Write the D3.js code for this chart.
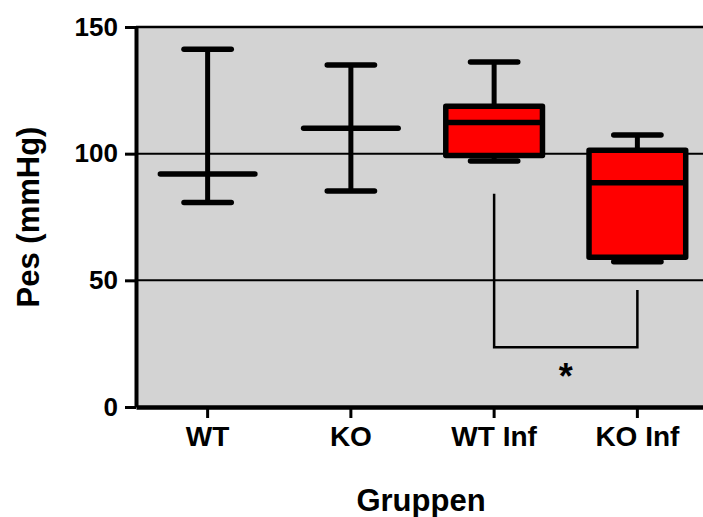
<!DOCTYPE html>
<html>
<head>
<meta charset="utf-8">
<script src="https://cdn.jsdelivr.net/npm/d3@7"></script>
<style>
  body { margin: 0; background: #fff; }
  svg { display: block; font-family: Arial, "Liberation Sans", Helvetica, sans-serif; font-weight: bold; }
</style>
</head>
<body>
<div id="chart"></div>
<script>
// groups and values (mmHg)
const groups = ["WT", "KO", "WT Inf", "KO Inf"];
const mins    = [80.7, 85.3, 97.1, 57.3];
const q1s     = [null, null, 99.3, 59.1];
const medians = [92.0, 110.0, 112.3, 88.5];
const q3s     = [null, null, 118.7, 101.3];
const maxs    = [141.2, 135.0, 136.2, 107.4];
const hasBox  = [false, false, true, true];

const yTicks = [0, 50, 100, 150];
const gridValues = [50, 100];

// significance bracket between WT Inf and KO Inf
const bracketGroups = ["WT Inf", "KO Inf"];
const bracketTops = [84.2, 46.2];
const bracketBottom = 23.6;
const bracketLabel = "*";

const width = 703, height = 517;
const margin = { left: 136, top: 27, bottom: 110 };
const plotRight = 709;

const svg = d3.select("#chart").append("svg")
    .attr("width", width)
    .attr("height", height);

const x = d3.scaleBand()
    .domain(groups)
    .range([margin.left, plotRight]);

const y = d3.scaleLinear()
    .domain([0, 150])
    .range([height - margin.bottom, margin.top]);

// plot background
svg.append("rect")
    .attr("x", margin.left)
    .attr("y", y(150))
    .attr("width", plotRight - margin.left)
    .attr("height", y(0) - y(150))
    .attr("fill", "#d3d3d3");

// grid lines
svg.selectAll(".grid")
    .data(gridValues)
    .enter().append("line")
    .attr("x1", margin.left).attr("x2", plotRight)
    .attr("y1", d => y(d)).attr("y2", d => y(d))
    .attr("stroke", "#000")
    .attr("stroke-width", 2);

// top border
svg.append("line")
    .attr("x1", margin.left).attr("x2", plotRight)
    .attr("y1", y(150)).attr("y2", y(150))
    .attr("stroke", "#000")
    .attr("stroke-width", 2.5);

// bracket
const bx = bracketGroups.map(g => x(g) + x.bandwidth() / 2);
svg.append("path")
    .attr("d", d3.line()([
        [bx[0], y(bracketTops[0])],
        [bx[0], y(bracketBottom)],
        [bx[1], y(bracketBottom)],
        [bx[1], y(bracketTops[1])]
    ]))
    .attr("fill", "none")
    .attr("stroke", "#000")
    .attr("stroke-width", 2.5);

svg.append("text")
    .attr("x", (bx[0] + bx[1]) / 2)
    .attr("y", y(bracketBottom) + 42)
    .attr("text-anchor", "middle")
    .attr("font-size", 36)
    .text(bracketLabel);

// box / range glyphs
const boxW = x.bandwidth() * 0.675;
const capW = x.bandwidth() * 0.33;
const medW = x.bandwidth() * 0.66;

groups.forEach((g, i) => {
    const cx = x(g) + x.bandwidth() / 2;
    const grp = svg.append("g");
    const top = hasBox[i] ? q3s[i] : medians[i];
    const bot = hasBox[i] ? q1s[i] : medians[i];

    // whiskers
    grp.append("line")
        .attr("x1", cx).attr("x2", cx)
        .attr("y1", y(maxs[i])).attr("y2", y(hasBox[i] ? top : mins[i]))
        .attr("stroke", "#000").attr("stroke-width", 5);
    if (hasBox[i]) {
        grp.append("line")
            .attr("x1", cx).attr("x2", cx)
            .attr("y1", y(bot)).attr("y2", y(mins[i]))
            .attr("stroke", "#000").attr("stroke-width", 5);
    }
    // caps
    [maxs[i], mins[i]].forEach(v => {
        grp.append("line")
            .attr("x1", cx - capW / 2).attr("x2", cx + capW / 2)
            .attr("y1", y(v)).attr("y2", y(v))
            .attr("stroke", "#000").attr("stroke-width", 5.5)
            .attr("stroke-linecap", "round");
    });

    if (hasBox[i]) {
        grp.append("rect")
            .attr("x", cx - boxW / 2)
            .attr("y", y(q3s[i]))
            .attr("width", boxW)
            .attr("height", y(q1s[i]) - y(q3s[i]))
            .attr("fill", "#ff0000")
            .attr("stroke", "#000")
            .attr("stroke-width", 5.5)
            .attr("stroke-linejoin", "round");
        grp.append("line")
            .attr("x1", cx - boxW / 2).attr("x2", cx + boxW / 2)
            .attr("y1", y(medians[i])).attr("y2", y(medians[i]))
            .attr("stroke", "#000").attr("stroke-width", 5.5);
    } else {
        grp.append("line")
            .attr("x1", cx - medW / 2).attr("x2", cx + medW / 2)
            .attr("y1", y(medians[i])).attr("y2", y(medians[i]))
            .attr("stroke", "#000").attr("stroke-width", 5.5)
            .attr("stroke-linecap", "round");
    }
});

// axes
const yAxis = svg.append("g")
    .attr("transform", `translate(${margin.left},0)`)
    .call(d3.axisLeft(y).tickValues(yTicks).tickSize(11).tickSizeOuter(0).tickPadding(7));
yAxis.select(".domain").attr("stroke-width", 4);
yAxis.selectAll(".tick line").attr("stroke-width", 3);
yAxis.selectAll(".tick text")
    .attr("font-size", 26)
    .attr("font-family", null)
    .attr("fill", "#000");

const xAxis = svg.append("g")
    .attr("transform", `translate(0,${y(0)})`)
    .call(d3.axisBottom(x).tickSize(11).tickSizeOuter(0).tickPadding(8));
xAxis.select(".domain").attr("stroke-width", 4.5);
xAxis.selectAll(".tick line").attr("stroke-width", 3);
xAxis.selectAll(".tick text")
    .attr("font-size", 28)
    .attr("font-family", null)
    .attr("fill", "#000");

// titles
svg.append("text")
    .attr("transform", `translate(39,${(y(0) + y(150)) / 2}) rotate(-90)`)
    .attr("text-anchor", "middle")
    .attr("font-size", 31)
    .text("Pes (mmHg)");

svg.append("text")
    .attr("x", 421)
    .attr("y", 511)
    .attr("text-anchor", "middle")
    .attr("font-size", 31)
    .text("Gruppen");
</script>
</body>
</html>
